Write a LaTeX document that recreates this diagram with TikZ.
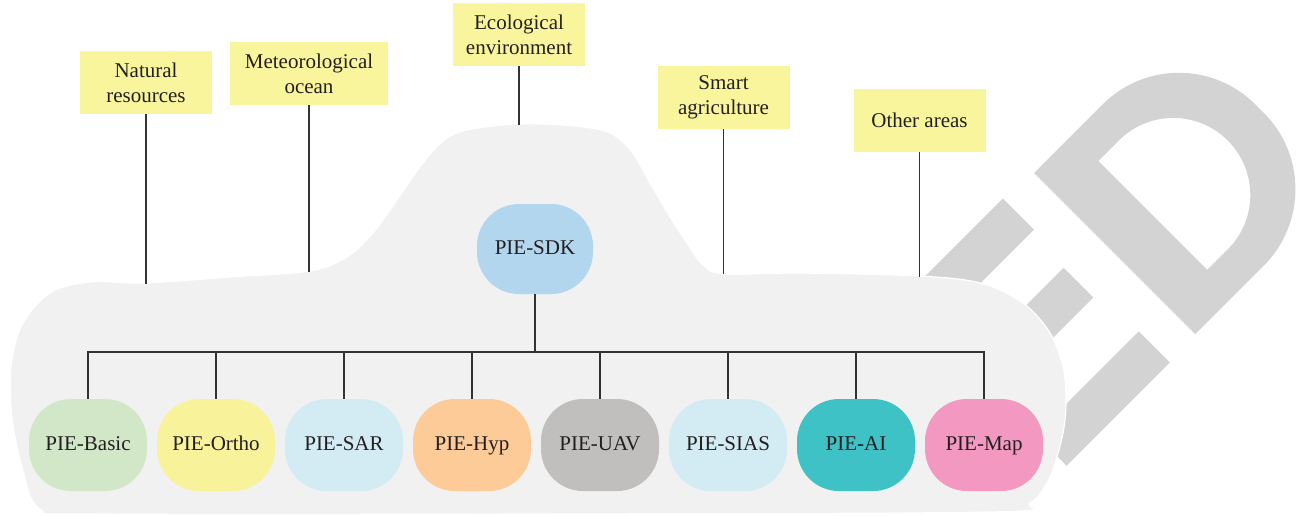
\documentclass[tikz,border=0pt]{standalone}
\usepackage{fontspec}
\setmainfont{Liberation Serif}
\definecolor{cloudc}{HTML}{F0F1F0}
\definecolor{wmc}{HTML}{D3D3D3}
\definecolor{boxy}{HTML}{F9F59D}
\definecolor{txt}{HTML}{231F20}
\definecolor{linec}{HTML}{333333}
\definecolor{csdk}{HTML}{B3D6EF}
\definecolor{cbasic}{HTML}{D1E7C7}
\definecolor{cortho}{HTML}{F8F39B}
\definecolor{csar}{HTML}{D3ECF4}
\definecolor{chyp}{HTML}{FDCB97}
\definecolor{cuav}{HTML}{C0BFBD}
\definecolor{cai}{HTML}{3FC2C6}
\definecolor{cmap}{HTML}{F399C1}
\begin{document}
\begin{tikzpicture}[x=1pt,y=-1pt,
  area/.style={fill=boxy, minimum width=132pt, minimum height=63pt, align=center,
    inner sep=0pt, font=\fontsize{21}{25}\selectfont, text=txt},
  modbox/.style={minimum width=118pt, minimum height=92pt, rounded corners=42pt,
    inner sep=0pt, font=\fontsize{21}{25}\selectfont, text=txt,
    text height=14pt, text depth=4pt},
  link/.style={draw=linec, line width=1.4pt},
  wm/.style={fill=wmc}]
\useasboundingbox (0,0) rectangle (1302,515);

% watermark logo
\begin{scope}[shift={(1034,173)}, x={(0.7071pt,-0.7071pt)}, y={(0.7071pt,0.7071pt)}]
  \fill[wm, even odd rule]
    (0,0) -- (0,97) arc[start angle=180, end angle=90, radius=108]
    -- (120,205) arc[start angle=90, end angle=0, radius=108]
    -- (228,0) -- cycle
    (37,54) -- (37,83) arc[start angle=180, end angle=0, radius=77]
    -- (191,54) -- cycle;
  \fill[wm] (-4,-40) -- (40,-40) -- (40,-150) -- (-4,-150) -- cycle;
  \fill[wm] (88,-46) -- (130,-46) -- (130,-150) -- (88,-150) -- cycle;
  \fill[wm] (186,-38) -- (230,-38) -- (230,-184) -- (186,-184) -- cycle;
\end{scope}

% cloud
\draw[fill=cloudc, draw=white, line width=1.2pt] plot[smooth cycle, tension=0.55] coordinates {
  (145,283) (230,277) (310,271) (347,257) (373,233) (397,200) (420,167)
  (442,142) (467,130) (519,124) (575,126) (610,133) (632,152) (650,183)
  (670,217) (687,243) (703,265) (724,274) (800,273) (919,276) (980,283)
  (1023,303) (1050,333) (1063,367) (1066,400) (1063,433) (1050,477)
  (1030,503) (990,512) (540,514) (100,514) (40,509) (22,467) (12,417)
  (11,367) (22,325) (50,293) (90,282)};

% application areas
\node[area] (nat) at (146,82.5) {Natural\\resources};
\node[area, minimum width=158pt] (met) at (309,73.5) {Meteorological\\ocean};
\node[area] (eco) at (519,34.5) {Ecological\\environment};
\node[area] (sma) at (723.5,97.5) {Smart\\agriculture};
\node[area] (oth) at (919.5,120.5) {Other areas};

\coordinate (natend) at (146,284);
\coordinate (metend) at (309,272);
\coordinate (ecoend) at (519,125);
\coordinate (smaend) at (723.5,274);
\coordinate (othend) at (919.5,277);
\draw[link] (nat.south) -- (natend);
\draw[link] (met.south) -- (metend);
\draw[link] (eco.south) -- (ecoend);
\draw[link] (sma.south) -- (smaend);
\draw[link] (oth.south) -- (othend);

% modules
\node[modbox, fill=csdk, minimum width=116pt, minimum height=90pt] (sdk) at (535,249) {PIE-SDK};
\node[modbox, fill=cbasic] (m1) at (88,445) {PIE-Basic};
\node[modbox, fill=cortho] (m2) at (216,445) {PIE-Ortho};
\node[modbox, fill=csar] (m3) at (344,445) {PIE-SAR};
\node[modbox, fill=chyp] (m4) at (472,445) {PIE-Hyp};
\node[modbox, fill=cuav] (m5) at (600,445) {PIE-UAV};
\node[modbox, fill=csar] (m6) at (728,445) {PIE-SIAS};
\node[modbox, fill=cai] (m7) at (856,445) {PIE-AI};
\node[modbox, fill=cmap] (m8) at (984,445) {PIE-Map};

\coordinate (bus) at (535,352);
\draw[link] (sdk.south) -- (bus);
\draw[link] (m1.north) -- (m1.north |- bus) -- (m8.north |- bus) -- (m8.north);
\foreach \m in {m2,m3,m4,m5,m6,m7}
  \draw[link] (\m.north) -- (\m.north |- bus);
\end{tikzpicture}
\end{document}
